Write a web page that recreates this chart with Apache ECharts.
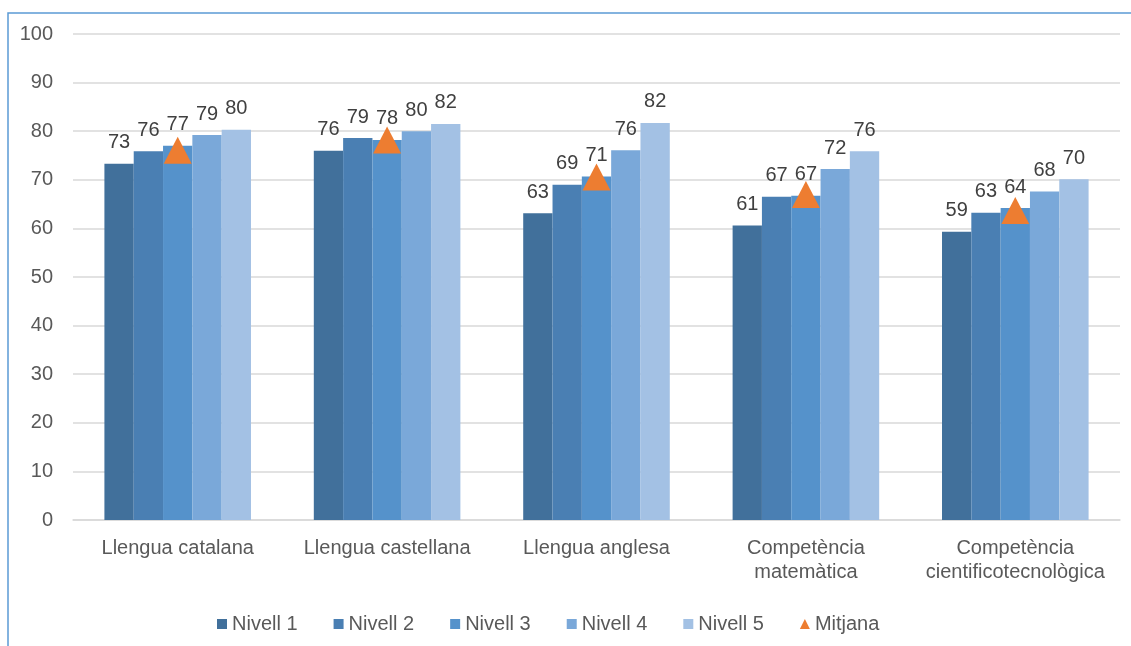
<!DOCTYPE html>
<html>
<head>
<meta charset="utf-8">
<script src="https://cdn.jsdelivr.net/npm/echarts@6/dist/echarts.min.js"></script>
<style>
  html, body { margin: 0; padding: 0; background: #fff; }
  #chart { width: 1131px; height: 646px; }
</style>
</head>
<body>
<div id="chart"></div>
<script>
const categories = ['Llengua catalana', 'Llengua castellana', 'Llengua anglesa',
    'Competència\nmatemàtica', 'Competència\ncientificotecnològica'];
const nivell1 = [73.3, 76.0, 63.1, 60.6, 59.3];
const nivell2 = [75.9, 78.6, 69.0, 66.5, 63.2];
const nivell3 = [77.0, 78.2, 70.7, 66.7, 64.2];
const nivell4 = [79.2, 80.0, 76.1, 72.2, 67.6];
const nivell5 = [80.3, 81.5, 81.7, 75.9, 70.1];
const mitjana = [76.1, 78.2, 70.6, 67.0, 63.7];
const seriesNames = ['Nivell 1', 'Nivell 2', 'Nivell 3', 'Nivell 4', 'Nivell 5'];
const seriesColors = ['#41709b', '#4a7fb3', '#5592cb', '#7aa8d9', '#a3c1e4'];
const yTicks = [0, 10, 20, 30, 40, 50, 60, 70, 80, 90, 100];

const font = 'Liberation Sans, Arial, sans-serif';
const myChart = echarts.init(document.getElementById('chart'));

// one bar series per level
const barSeries = [nivell1, nivell2, nivell3, nivell4, nivell5].map((vals, i) => ({
    name: seriesNames[i],
    type: 'bar',
    data: vals,
    barGap: 0,
    barCategoryGap: '30%',
    itemStyle: { color: seriesColors[i] },
    label: {
        show: true,
        position: 'top',
        distance: 11,
        color: '#404040',
        fontSize: 20,
        fontFamily: font,
        formatter: p => Math.round(p.value)
    }
}));

const option = {
    backgroundColor: '#fff',
    animation: false,
    graphic: [{
        type: 'rect',
        shape: { x: 8, y: 13, width: 1300, height: 800 },
        style: { fill: 'none', stroke: '#5b9bd5', lineWidth: 1.5 },
        silent: true
    }],
    grid: { left: 73, right: 11, top: 34, bottom: 126 },
    legend: {
        left: 212,
        top: 609,
        itemWidth: 10,
        itemHeight: 10,
        itemGap: 36,
        textStyle: { color: '#595959', fontSize: 20, fontFamily: font },
        data: seriesNames.map(n => ({ name: n, icon: 'rect' }))
            .concat([{ name: 'Mitjana', icon: 'triangle', itemStyle: { opacity: 1 } }])
    },
    xAxis: {
        type: 'category',
        data: categories,
        axisTick: { show: false },
        axisLine: { lineStyle: { color: '#d9d9d9', width: 1.5 } },
        axisLabel: {
            color: '#595959',
            fontSize: 20,
            lineHeight: 24,
            margin: 16,
            fontFamily: font,
            interval: 0
        }
    },
    yAxis: {
        type: 'value',
        min: yTicks[0],
        max: yTicks[yTicks.length - 1],
        interval: 10,
        axisLine: { show: false },
        axisTick: { show: false },
        splitLine: { lineStyle: { color: '#d9d9d9', width: 1.5 } },
        axisLabel: { color: '#595959', fontSize: 20, margin: 20, fontFamily: font }
    },
    series: barSeries.concat([{
        name: 'Mitjana',
        type: 'scatter',
        data: mitjana,
        symbol: 'triangle',
        symbolSize: [28, 27],
        itemStyle: { color: '#ed7d31', opacity: 1 },
        z: 5
    }])
};
myChart.setOption(option);
</script>
</body>
</html>
